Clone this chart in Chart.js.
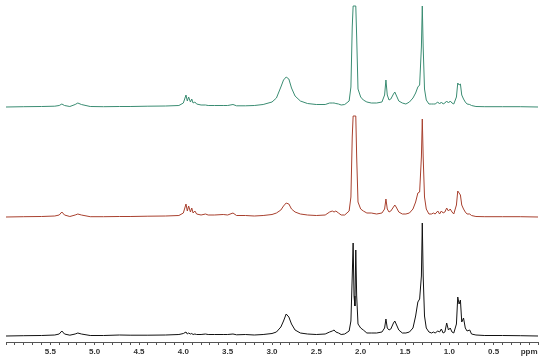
<!DOCTYPE html>
<html>
<head>
<meta charset="utf-8">
<script src="https://cdn.jsdelivr.net/npm/chart.js@4.4.1/dist/chart.umd.min.js"></script>
<style>
  html, body { margin: 0; padding: 0; background: #fff; }
  #wrap { width: 550px; height: 363px; }
</style>
</head>
<body>
<div id="wrap"><canvas id="nmr"></canvas></div>
<script>
// chemical shift grid (ppm), shared by the three traces
const ppm = [
  6.00, 5.80, 5.60, 5.45, 5.40, 5.37, 5.34, 5.28, 5.22, 5.19, 5.15, 5.05, 4.90, 4.72, 4.60,
  4.40, 4.20, 4.05, 4.00, 3.97, 3.955, 3.94, 3.92, 3.905, 3.89, 3.87, 3.85, 3.80, 3.75, 3.72,
  3.65, 3.55, 3.50, 3.44, 3.40, 3.30, 3.20, 3.10, 3.00, 2.95, 2.90, 2.87, 2.84, 2.81, 2.78,
  2.74, 2.68, 2.60, 2.50, 2.40, 2.35, 2.32, 2.30, 2.28, 2.25, 2.22, 2.18, 2.13, 2.11, 2.095,
  2.085, 2.075, 2.065, 2.055, 2.045, 2.03, 2.00, 1.97, 1.93, 1.88, 1.82, 1.76, 1.73, 1.715, 1.70,
  1.68, 1.66, 1.63, 1.615, 1.60, 1.57, 1.53, 1.49, 1.45, 1.41, 1.38, 1.355, 1.335, 1.315, 1.305,
  1.295, 1.28, 1.26, 1.23, 1.20, 1.18, 1.16, 1.13, 1.11, 1.09, 1.07, 1.05, 1.03, 1.01, 0.99,
  0.97, 0.95, 0.92, 0.905, 0.89, 0.875, 0.86, 0.84, 0.82, 0.80, 0.77, 0.75, 0.70, 0.60, 0.40,
  0.20, 0.00
];

// intensities (arbitrary units, baseline = 0)
const greenTrace = [
  0, 0.3, 0.5, 0.8, 1.5, 3, 1.5, 0.5, 2.5, 4, 2.5, 0.5, 0.3, 0.5, 0.5,
  0.8, 1, 1.5, 4, 12, 6, 10, 5, 8, 4, 5, 3, 2, 2, 1.5,
  1.5, 1.5, 1.5, 2.5, 1.2, 1.2, 1.5, 2.5, 5, 9, 20, 27, 30, 28, 19,
  11, 6, 3.5, 2.5, 2.5, 4, 4, 4, 3.5, 3, 2, 2.5, 6, 20, 80,
  101, 101, 101, 101, 70, 18, 10, 7, 5, 4, 4, 5, 12, 27, 12,
  7, 8, 13, 15, 12, 6, 4, 3, 5, 9, 14, 20, 22, 60, 101,
  60, 18, 7, 3, 3, 3, 3, 5, 3, 5, 3, 4, 6, 4, 6,
  4, 3, 10, 24, 22, 23, 12, 8, 5, 3, 2.5, 1.5, 0.5, 0.3, 0.3,
  0.3, 0
];

const redTrace = [
  0, 0.3, 0.5, 1, 2, 5, 2, 0.5, 2, 3, 2, 0.3, 0.3, 0.5, 0.5,
  0.8, 1, 1.5, 4, 13, 6, 11, 5, 9, 4, 6, 3, 2, 3, 2,
  2, 2.5, 2, 4, 1.5, 1.5, 1, 1.5, 2.5, 4, 7, 11, 14, 13, 8,
  5, 3, 2, 1.5, 2, 5, 6, 5, 6, 4, 2, 2, 6, 20, 80,
  101, 101, 101, 101, 60, 15, 8, 6, 4, 4, 3, 4, 8, 18, 8,
  5, 6, 10, 12, 10, 5, 3, 3, 4, 8, 15, 24, 25, 60, 98,
  60, 20, 8, 3, 3, 4, 3, 6, 3, 6, 4, 5, 9, 6, 8,
  5, 3, 12, 26, 24, 22, 12, 8, 5, 3, 3, 1.5, 0.5, 0.3, 0.3,
  0.3, 0
];

const blackTrace = [
  0, 0.3, 0.5, 1, 2, 5, 2, 0.8, 2, 3, 2, 0.5, 0.5, 1, 0.8,
  0.8, 1, 1.5, 2.5, 4, 2, 3, 2, 2.5, 1.5, 2, 1.5, 1.5, 2, 1.5,
  1.5, 1.5, 1.5, 2, 1.2, 1.5, 1, 1.5, 2.5, 4, 9, 15, 22, 19, 12,
  6, 3, 2, 1.5, 2, 4, 5, 6, 4, 3, 1.5, 2, 5, 15, 60,
  93, 40, 30, 86, 40, 12, 8, 6, 3, 3, 3, 4, 8, 17, 8,
  6, 7, 13, 15, 12, 6, 3, 3, 4, 8, 20, 34, 37, 60, 113,
  60, 20, 8, 4, 3, 4, 3, 5, 4, 7, 3, 4, 13, 6, 8,
  4, 3, 12, 39, 32, 36, 14, 18, 8, 5, 6, 2, 1, 0.5, 0.5,
  0.3, 0
];

const tickLabels = ['5.5', '5.0', '4.5', '4.0', '3.5', '3.0', '2.5', '2.0', '1.5', '1.0', '0.5'];
const unitLabel = 'ppm';

// vertical stacking of the spectra
const OFFSET_BLACK = 6;
const OFFSET_RED = 125;
const OFFSET_GREEN = 235;

function trace(values, offset) {
  return ppm.map((x, i) => ({ x: x, y: values[i] + offset }));
}

function lineSet(label, values, offset, color) {
  return {
    label: label,
    data: trace(values, offset),
    borderColor: color,
    borderWidth: 1,
    pointRadius: 0,
    tension: 0,
    fill: false
  };
}

new Chart(document.getElementById('nmr'), {
  type: 'line',
  data: {
    datasets: [
      lineSet('green', greenTrace, OFFSET_GREEN, '#3a8c72'),
      lineSet('red', redTrace, OFFSET_RED, '#a8402e'),
      lineSet('black', blackTrace, OFFSET_BLACK, '#111111')
    ]
  },
  options: {
    responsive: true,
    maintainAspectRatio: false,
    animation: false,
    layout: { padding: { left: 6, right: 12, top: 0, bottom: 0 } },
    plugins: {
      legend: { display: false },
      tooltip: { enabled: false }
    },
    scales: {
      x: {
        type: 'linear',
        reverse: true,
        min: 0,
        max: 6,
        border: { color: '#555', width: 1 },
        grid: { drawOnChartArea: false, tickLength: 3, color: '#555' },
        ticks: {
          stepSize: 0.1,
          autoSkip: false,
          maxRotation: 0,
          padding: 2,
          color: '#333',
          font: { family: 'Liberation Sans', size: 8, weight: 'bold' },
          callback: function (value) {
            const s = (Math.round(value * 10) / 10).toFixed(1);
            if (s === '0.1') return unitLabel;
            return tickLabels.includes(s) ? s : '';
          }
        },
        afterFit: function (scale) { scale.height = 21; }
      },
      y: {
        display: false,
        min: 0,
        max: 342
      }
    }
  }
});
</script>
</body>
</html>
